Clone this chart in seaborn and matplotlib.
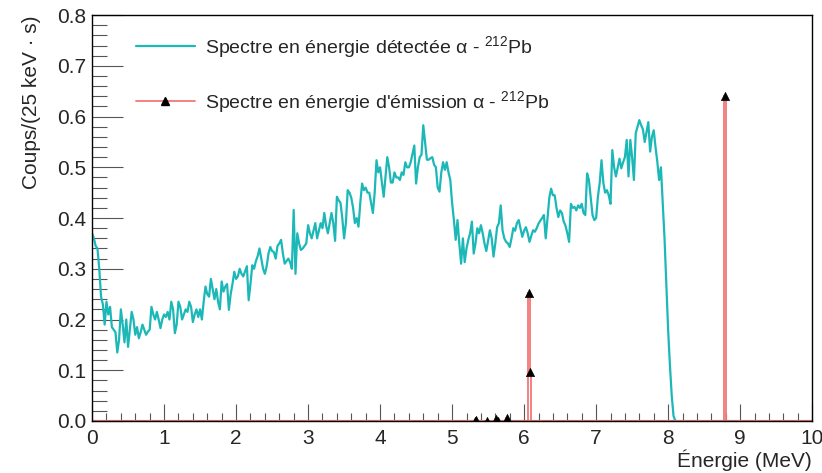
import numpy as np
import pandas as pd
import matplotlib
matplotlib.use('Agg')
import matplotlib.pyplot as plt
from matplotlib.lines import Line2D
from matplotlib.ticker import MultipleLocator
import seaborn as sns

# Detected alpha spectrum, 25 keV bins from 0 to 8.1 MeV
detected = [
    0.37, 0.36, 0.345, 0.34, 0.30, 0.245, 0.23, 0.19,
    0.235, 0.21, 0.225, 0.185, 0.18, 0.175, 0.135, 0.16,
    0.22, 0.19, 0.155, 0.20, 0.146, 0.18, 0.215, 0.20,
    0.17, 0.185, 0.163, 0.175, 0.19, 0.18, 0.17, 0.176,
    0.18, 0.225, 0.21, 0.20, 0.215, 0.20, 0.183, 0.20,
    0.21, 0.205, 0.215, 0.20, 0.235, 0.22, 0.173, 0.19,
    0.235, 0.225, 0.20, 0.21, 0.22, 0.215, 0.235, 0.225,
    0.195, 0.21, 0.22, 0.205, 0.22, 0.20, 0.235, 0.265,
    0.25, 0.245, 0.28, 0.26, 0.24, 0.26, 0.235, 0.22,
    0.275, 0.255, 0.265, 0.27, 0.219, 0.25, 0.27, 0.294,
    0.28, 0.285, 0.30, 0.29, 0.285, 0.295, 0.305, 0.238,
    0.27, 0.307, 0.30, 0.315, 0.325, 0.34, 0.32, 0.30,
    0.29, 0.305, 0.33, 0.343, 0.335, 0.333, 0.32, 0.345,
    0.35, 0.357, 0.33, 0.31, 0.315, 0.32, 0.313, 0.30,
    0.416, 0.29, 0.37, 0.35, 0.337, 0.34, 0.345, 0.35,
    0.386, 0.37, 0.36, 0.375, 0.39, 0.36, 0.375, 0.39,
    0.38, 0.41, 0.385, 0.37, 0.39, 0.41, 0.39, 0.355,
    0.442, 0.435, 0.43, 0.40, 0.36, 0.39, 0.455, 0.45,
    0.44, 0.42, 0.39, 0.40, 0.383, 0.43, 0.468, 0.455,
    0.46, 0.45, 0.45, 0.43, 0.41, 0.45, 0.514, 0.49,
    0.50, 0.47, 0.442, 0.48, 0.52, 0.50, 0.47, 0.47,
    0.49, 0.48, 0.48, 0.475, 0.49, 0.485, 0.51, 0.50,
    0.50, 0.51, 0.527, 0.543, 0.468, 0.50, 0.52, 0.525,
    0.583, 0.55, 0.515, 0.515, 0.518, 0.52, 0.505, 0.50,
    0.46, 0.452, 0.49, 0.51, 0.495, 0.51, 0.49, 0.475,
    0.43, 0.396, 0.357, 0.396, 0.35, 0.31, 0.36, 0.313,
    0.34, 0.357, 0.37, 0.393, 0.33, 0.35, 0.38, 0.37,
    0.386, 0.37, 0.35, 0.335, 0.355, 0.376, 0.36, 0.324,
    0.35, 0.382, 0.39, 0.425, 0.376, 0.36, 0.353, 0.35,
    0.343, 0.36, 0.38, 0.375, 0.39, 0.396, 0.38, 0.363,
    0.375, 0.382, 0.37, 0.353, 0.365, 0.376, 0.373, 0.38,
    0.389, 0.395, 0.40, 0.406, 0.36, 0.40, 0.44, 0.458,
    0.445, 0.445, 0.42, 0.402, 0.415, 0.41, 0.393, 0.385,
    0.37, 0.353, 0.428, 0.42, 0.422, 0.415, 0.425, 0.42,
    0.428, 0.41, 0.406, 0.488, 0.475, 0.44, 0.406, 0.396,
    0.40, 0.442, 0.47, 0.514, 0.47, 0.45, 0.455, 0.445,
    0.428, 0.534, 0.50, 0.482, 0.50, 0.517, 0.498, 0.51,
    0.52, 0.554, 0.482, 0.554, 0.52, 0.475, 0.567, 0.58,
    0.593, 0.583, 0.575, 0.55, 0.57, 0.589, 0.531, 0.56,
    0.573, 0.54, 0.511, 0.475, 0.50, 0.43, 0.36, 0.27,
    0.18, 0.11, 0.05, 0.01, 0.0,
]
bin_width = 0.025  # MeV

# Emission lines of the 212Pb chain (MeV, intensity per decay)
line_energy = [5.302, 5.345, 5.481, 5.607, 5.626, 5.768, 6.051, 6.090, 8.785]
line_intensity = [0.0004, 0.0012, 0.0005, 0.004, 0.0006, 0.006, 0.2513, 0.0975, 0.6406]

label_det = "Spectre en énergie détectée α - $^{212}$Pb"
label_emi = "Spectre en énergie d'émission α - $^{212}$Pb"
cyan = '#1cb8b8'
red = '#f07878'

sns.set_style('ticks')
plt.rcParams['font.family'] = ['Liberation Sans', 'DejaVu Sans']
plt.rcParams['mathtext.fontset'] = 'custom'
plt.rcParams['mathtext.rm'] = 'Liberation Sans'
plt.rcParams['mathtext.it'] = 'Liberation Sans:italic'

df_det = pd.DataFrame({'E': np.arange(len(detected)) * bin_width, 'y': detected})

edges = np.arange(0, 10 + bin_width / 2, bin_width)
counts, _ = np.histogram(line_energy, bins=edges, weights=line_intensity)
centers = (edges[:-1] + edges[1:]) / 2
df_emi = pd.DataFrame({'E': centers, 'y': counts})
df_pts = df_emi[df_emi['y'] > 0]

fig = plt.figure(figsize=(8.22, 4.73), dpi=100)
ax = fig.add_axes([0.112, 0.110, 0.876, 0.858])

sns.lineplot(data=df_det, x='E', y='y', ax=ax, color=cyan, lw=1.6)
ax.stairs(counts, edges, color=red, lw=1.3, baseline=None)
ax.plot([0, 10], [0, 0], color=red, lw=1.6)
sns.scatterplot(data=df_pts, x='E', y='y', ax=ax, marker='^', color='black',
                s=35, edgecolor='black', zorder=5)

ax.set_xlim(0, 10)
ax.set_ylim(0, 0.8)
ax.xaxis.set_major_locator(MultipleLocator(1))
ax.xaxis.set_minor_locator(MultipleLocator(0.2))
ax.yaxis.set_major_locator(MultipleLocator(0.1))
ax.yaxis.set_minor_locator(MultipleLocator(0.02))
ax.yaxis.set_major_formatter(matplotlib.ticker.FormatStrFormatter('%.1f'))
ax.tick_params(which='both', direction='in', labelsize=15, color='#555555',
               bottom=True, left=True, top=False, right=False, width=0.8)
ax.tick_params(axis='y', which='major', length=22, pad=4)
ax.tick_params(axis='y', which='minor', length=11)
ax.tick_params(axis='x', which='major', length=12, pad=6)
ax.tick_params(axis='x', which='minor', length=6)
for s in ax.spines.values():
    s.set_visible(True)
    s.set_color('black')
    s.set_linewidth(1.0)

ax.set_xlabel('Énergie (MeV)', loc='right', fontsize=15, labelpad=1)
ax.set_ylabel('Coups/(25 keV · s)', loc='top', fontsize=15, labelpad=12)

handles = [
    Line2D([], [], color=cyan, lw=1.6),
    Line2D([], [], color=red, lw=1.3, marker='^', markersize=6,
           markerfacecolor='black', markeredgecolor='black', markevery=[1]),
]
ax.legend(handles, [label_det, label_emi], loc='upper left', frameon=False,
          fontsize=14, bbox_to_anchor=(0.037, 0.997), handlelength=3.0,
          handletextpad=0.55, labelspacing=1.5)

fig.savefig('out.png', dpi=100)
